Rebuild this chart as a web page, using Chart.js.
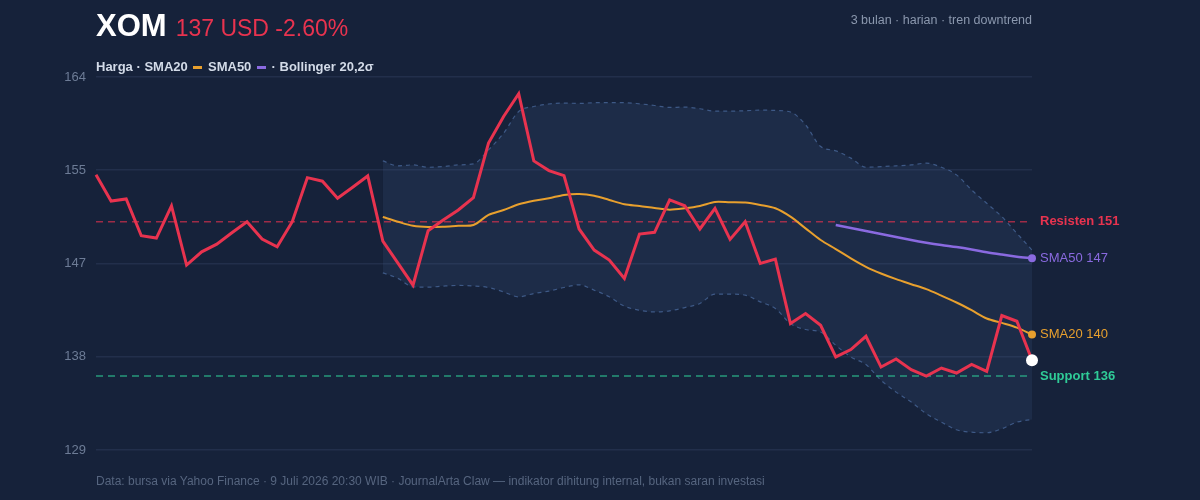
<!DOCTYPE html>
<html>
<head>
<meta charset="utf-8">
<script src="https://cdn.jsdelivr.net/npm/chart.js@4.4.1/dist/chart.umd.min.js"></script>
<style>
  html, body { margin: 0; padding: 0; background: #16223a; }
  body { width: 1200px; height: 500px; position: relative; overflow: hidden;
         font-family: "Liberation Sans", Arial, Helvetica, sans-serif; }
  #wrap { position: absolute; left: 0; top: 0; width: 1200px; height: 500px; }
  .abs { position: absolute; white-space: nowrap; }
  #title { left: 96px; top: 6px; line-height: 40px; }
  #title b { color: #ffffff; font-size: 31px; font-weight: bold; }
  #title span { color: #e8334f; font-size: 23px; margin-left: 9px; }
  #sub { right: 168px; top: 13px; font-size: 12.5px; color: #8b98ae; }
  #legend { left: 96px; top: 59px; font-size: 13px; font-weight: bold; color: #d3dbe8; line-height: 16px; }
  #legend i { display: inline-block; width: 9px; height: 3px; vertical-align: middle; margin: 0 2px; }
  #foot { left: 96px; top: 474px; font-size: 12px; color: #56657f; }
</style>
</head>
<body>
<div id="wrap"><canvas id="chart"></canvas></div>
<div id="title" class="abs"><b>XOM</b><span>137 USD -2.60%</span></div>
<div id="sub" class="abs">3 bulan · harian · tren downtrend</div>
<div id="legend" class="abs">Harga · SMA20 <i style="background:#e8a02e"></i> SMA50 <i style="background:#8a6ae0"></i> · Bollinger 20,2σ</div>
<div id="foot" class="abs">Data: bursa via Yahoo Finance · 9 Juli 2026 20:30 WIB · JournalArta Claw — indikator dihitung internal, bukan saran investasi</div>
<script>
// harga penutupan harian (63 hari bursa)
const price = [154.97, 152.53, 152.72, 149.29, 149.07, 152.07, 146.55, 147.79, 148.51, 149.57,
  150.60, 148.98, 148.26, 150.60, 154.71, 154.38, 152.79, 153.81, 154.87, 148.79,
  146.74, 144.68, 149.76, 150.76, 151.69, 152.84, 157.93, 160.42, 162.54, 156.27,
  155.37, 154.90, 149.92, 147.95, 147.02, 145.31, 149.45, 149.61, 152.63, 152.09,
  149.92, 151.85, 148.95, 150.60, 146.71, 147.11, 141.10, 142.03, 140.94, 137.98,
  138.67, 139.91, 137.04, 137.79, 136.80, 136.20, 136.95, 136.48, 137.29, 136.64,
  141.85, 141.31, 137.67];

const N = null;
const sma20 = [N, N, N, N, N, N, N, N, N, N, N, N, N, N, N, N, N, N, N, 151.04,
  150.60, 150.22, 150.10, 150.13, 150.22, 150.29, 151.23, 151.69, 152.23, 152.56,
  152.79, 153.10, 153.19, 153.03, 152.63, 152.23, 152.07, 151.88, 151.72, 151.85,
  152.07, 152.44, 152.41, 152.38, 152.16, 151.85, 151.07, 149.98, 148.89, 148.05,
  147.18, 146.39, 145.77, 145.24, 144.77, 144.31, 143.70, 143.06, 142.34, 141.57,
  141.16, 140.72, 140.07];

const sma50 = [N, N, N, N, N, N, N, N, N, N, N, N, N, N, N, N, N, N, N, N,
  N, N, N, N, N, N, N, N, N, N, N, N, N, N, N, N, N, N, N, N,
  N, N, N, N, N, N, N, N, N, 150.29,
  150.01, 149.73, 149.45, 149.17, 148.89, 148.64, 148.42, 148.23, 148.00, 147.74,
  147.53, 147.34, 147.18];

const bbUpper = [N, N, N, N, N, N, N, N, N, N, N, N, N, N, N, N, N, N, N, 156.27,
  155.81, 155.90, 155.68, 155.74, 155.90, 155.99, 157.30, 158.86, 160.88, 161.35,
  161.58, 161.67, 161.63, 161.70, 161.70, 161.70, 161.60, 161.44, 161.26, 161.29,
  161.14, 160.92, 160.92, 160.95, 161.01, 160.98, 160.83, 159.64, 157.61, 157.21,
  156.53, 155.68, 155.74, 155.81, 155.90, 156.06, 155.68, 154.97, 153.56, 152.32,
  151.07, 149.51, 147.95];

const bbLower = [N, N, N, N, N, N, N, N, N, N, N, N, N, N, N, N, N, N, N, 145.83,
  145.31, 144.52, 144.49, 144.59, 144.65, 144.61, 144.46, 144.05, 143.59, 143.90,
  144.12, 144.46, 144.71, 144.21, 143.59, 142.72, 142.34, 142.18, 142.28, 142.59,
  142.97, 143.84, 143.84, 143.75, 143.12, 142.50, 141.10, 140.54, 140.31, 139.07,
  137.98, 137.27, 135.80, 134.70, 133.77, 132.68, 131.90, 131.19, 130.96, 130.91,
  131.28, 131.90, 132.15];

const resisten = 150.6;
const support = 136.2;
const yTicks = [129.3, 138.0, 146.7, 155.4, 164.1];

const labels = [];
for (let i = 0; i < price.length; ++i) {
  labels.push((i + 1).toString());
}
const last = price.length - 1;

const RED = "#e8334f", ORANGE = "#e8a02e", PURPLE = "#8a6ae0", GREEN = "#2fcb97";

// titik ujung hanya di data terakhir
function endDot(r) {
  return (ctx) => (ctx.dataIndex === last ? r : 0);
}

// label kanan (Resisten, SMA50, SMA20, Support)
const rightLabels = {
  id: "rightLabels",
  afterDatasetsDraw(chart) {
    const { ctx } = chart;
    const y = chart.scales.y;
    const x0 = chart.chartArea.right + 8;
    const items = [
      ["Resisten " + Math.round(resisten), resisten, RED, "bold"],
      ["SMA50 " + Math.round(sma50[last]), sma50[last], PURPLE, "normal"],
      ["SMA20 " + Math.round(sma20[last]), sma20[last], ORANGE, "normal"],
      ["Support " + Math.round(support), support, GREEN, "bold"],
    ];
    ctx.save();
    ctx.textBaseline = "middle";
    ctx.textAlign = "left";
    items.forEach(([t, v, c, w]) => {
      ctx.font = w + " 13px 'Liberation Sans', Arial, sans-serif";
      ctx.fillStyle = c;
      ctx.fillText(t, x0, y.getPixelForValue(v));
    });
    ctx.restore();
  },
};

const data = {
  labels: labels,
  datasets: [
    {
      label: "Harga",
      data: price,
      borderColor: RED,
      borderWidth: 3,
      pointRadius: endDot(6),
      pointBackgroundColor: "#ffffff",
      pointBorderColor: "#ffffff",
      pointBorderWidth: 0,
      tension: 0,
    },
    {
      label: "SMA20",
      data: sma20,
      borderColor: ORANGE,
      borderWidth: 2,
      pointRadius: endDot(4),
      pointBackgroundColor: ORANGE,
      pointBorderWidth: 0,
      tension: 0.3,
    },
    {
      label: "SMA50",
      data: sma50,
      borderColor: PURPLE,
      borderWidth: 2.5,
      pointRadius: endDot(4),
      pointBackgroundColor: PURPLE,
      pointBorderWidth: 0,
      tension: 0.3,
    },
    {
      label: "Resisten",
      data: labels.map(() => resisten),
      borderColor: "rgba(232,51,79,0.65)",
      borderWidth: 1.5,
      borderDash: [7, 5],
      pointRadius: 0,
    },
    {
      label: "Support",
      data: labels.map(() => support),
      borderColor: "rgba(47,203,151,0.7)",
      borderWidth: 1.5,
      borderDash: [7, 5],
      pointRadius: 0,
    },
    {
      label: "BB atas",
      data: bbUpper,
      borderColor: "#3e5986",
      borderWidth: 1.2,
      borderDash: [4, 4],
      pointRadius: 0,
      cubicInterpolationMode: "monotone",
      fill: false,
    },
    {
      label: "BB bawah",
      data: bbLower,
      borderColor: "#3e5986",
      borderWidth: 1.2,
      borderDash: [4, 4],
      pointRadius: 0,
      cubicInterpolationMode: "monotone",
      fill: "-1",
      backgroundColor: "rgba(70,100,150,0.16)",
    },
  ],
};

const config = {
  type: "line",
  data: data,
  options: {
    responsive: true,
    maintainAspectRatio: false,
    animation: false,
    layout: { padding: { left: 0, right: 168, top: 77, bottom: 50 } },
    plugins: {
      legend: { display: false },
      tooltip: { enabled: false },
    },
    scales: {
      x: { display: false },
      y: {
        min: yTicks[0],
        max: yTicks[yTicks.length - 1],
        afterBuildTicks: (s) => { s.ticks = yTicks.map((v) => ({ value: v })); },
        afterFit: (s) => { s.width = 96; },
        border: { display: false },
        grid: { color: "#222f4b", lineWidth: 1.5, drawTicks: false },
        ticks: {
          color: "#6d7c96",
          padding: 10,
          font: { size: 13, family: "'Liberation Sans', Arial, sans-serif" },
          callback: (v) => Math.round(v),
        },
      },
    },
  },
  plugins: [rightLabels],
};

let context = document.getElementById("chart").getContext("2d");
let chart = new Chart(context, config);
</script>
</body>
</html>
